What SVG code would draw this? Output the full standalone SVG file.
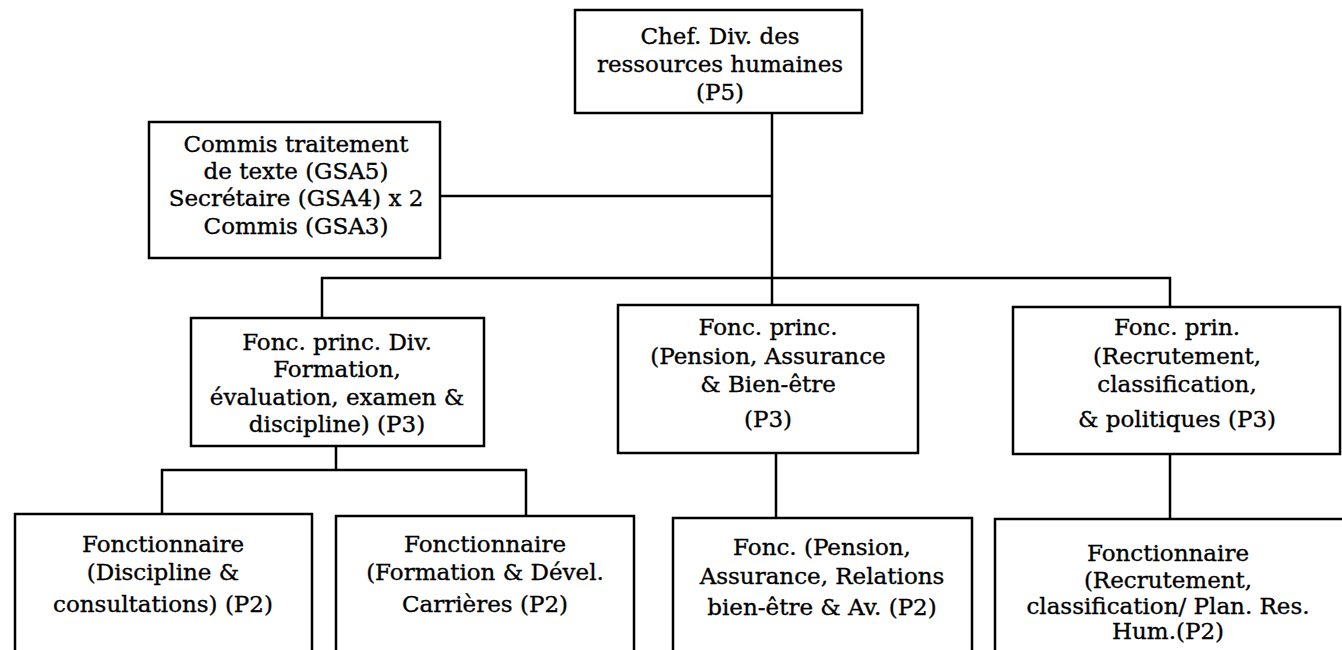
<svg xmlns="http://www.w3.org/2000/svg" width="1342" height="650" viewBox="0 0 1342 650">
<style>
.box{fill:#fff;stroke:#000;stroke-width:2.5}
.ln{stroke:#000;stroke-width:2.5;fill:none}
text{font-family:"DejaVu Serif","Liberation Serif",serif;font-size:23px;fill:#000;stroke:#000;stroke-width:0.35;text-anchor:middle}
</style>
<rect width="1342" height="650" fill="#fff"/>
<g id="connectors">
<path class="ln" d="M772 113V305"/>
<path class="ln" d="M440 196H772"/>
<path class="ln" d="M322 318V278H1170V307"/>
<path class="ln" d="M336 446V470"/>
<path class="ln" d="M162 514V470H526V516"/>
<path class="ln" d="M776 453V518"/>
<path class="ln" d="M1170 454V519"/>
</g>
<g id="chef">
<rect class="box" x="575" y="10" width="287" height="103"/>
<text x="720" y="44">Chef. Div. des</text>
<text x="720" y="72">ressources humaines</text>
<text x="720" y="100">(P5)</text>
</g>
<g id="commis">
<rect class="box" x="149" y="122" width="291" height="136"/>
<text x="296" y="152">Commis traitement</text>
<text x="296" y="179">de texte (GSA5)</text>
<text x="296" y="206">Secrétaire (GSA4) x 2</text>
<text x="296" y="234">Commis (GSA3)</text>
</g>
<g id="fonc-formation">
<rect class="box" x="191" y="318" width="293" height="128"/>
<text x="337" y="350">Fonc. princ. Div.</text>
<text x="337" y="377">Formation,</text>
<text x="337" y="405">évaluation, examen &amp;</text>
<text x="337" y="432">discipline) (P3)</text>
</g>
<g id="fonc-pension">
<rect class="box" x="618" y="305" width="300" height="148"/>
<text x="768" y="335">Fonc. princ.</text>
<text x="768" y="364">(Pension, Assurance</text>
<text x="768" y="392">&amp; Bien-être</text>
<text x="768" y="427">(P3)</text>
</g>
<g id="fonc-recrutement">
<rect class="box" x="1013" y="307" width="327" height="147"/>
<text x="1177" y="335">Fonc. prin.</text>
<text x="1177" y="364">(Recrutement,</text>
<text x="1177" y="392">classification,</text>
<text x="1177" y="427">&amp; politiques (P3)</text>
</g>
<g id="fonctionnaire-discipline">
<rect class="box" x="15" y="514" width="297" height="150"/>
<text x="163" y="552">Fonctionnaire</text>
<text x="163" y="580">(Discipline &amp;</text>
<text x="163" y="612">consultations) (P2)</text>
</g>
<g id="fonctionnaire-formation">
<rect class="box" x="336" y="516" width="298" height="150"/>
<text x="485" y="552">Fonctionnaire</text>
<text x="485" y="580">(Formation &amp; Dével.</text>
<text x="485" y="612">Carrières (P2)</text>
</g>
<g id="fonc-pension-p2">
<rect class="box" x="673" y="518" width="299" height="150"/>
<text x="822" y="555">Fonc. (Pension,</text>
<text x="822" y="584">Assurance, Relations</text>
<text x="822" y="615">bien-être &amp; Av. (P2)</text>
</g>
<g id="fonctionnaire-recrutement">
<rect class="box" x="995" y="519" width="360" height="150"/>
<text x="1168" y="561">Fonctionnaire</text>
<text x="1168" y="588">(Recrutement,</text>
<text x="1168" y="614">classification/ Plan. Res.</text>
<text x="1168" y="639">Hum.(P2)</text>
</g>
</svg>
